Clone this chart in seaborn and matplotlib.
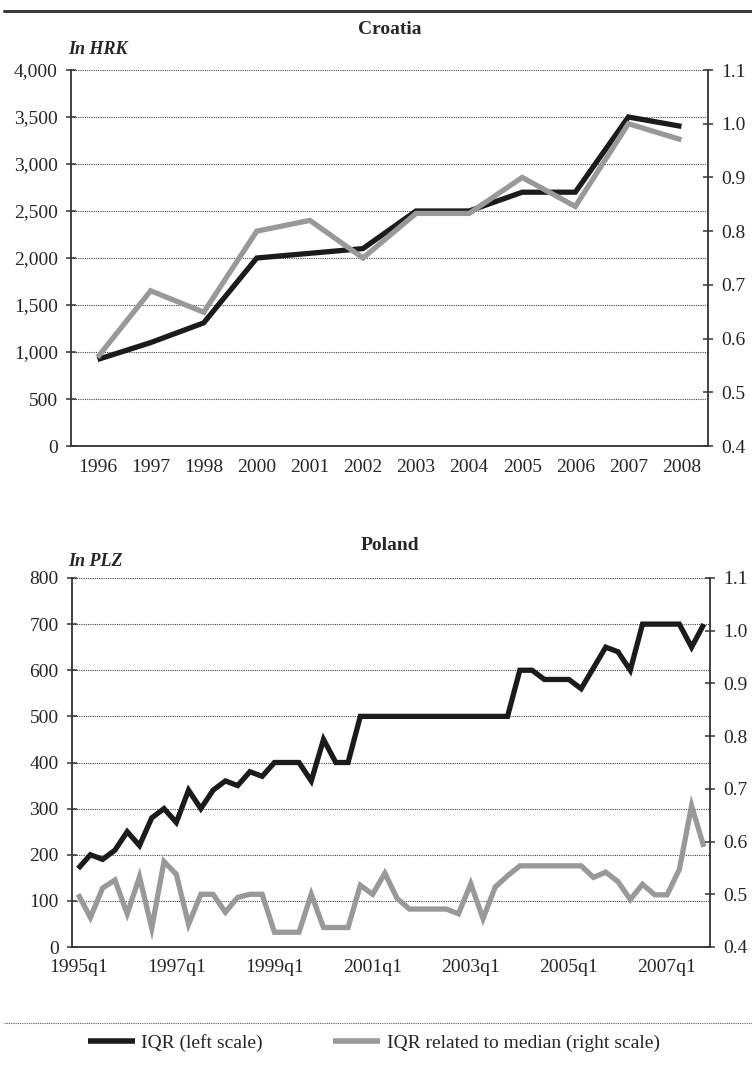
#IQR charts: Croatia (annual) and Poland (quarterly)
import numpy as np
import pandas as pd
import matplotlib
matplotlib.use("Agg")
import matplotlib.pyplot as plt
from matplotlib.lines import Line2D
from matplotlib.ticker import FuncFormatter
import seaborn as sns

# Croatia, annual (no 1999)
cro_years = ['1996', '1997', '1998', '2000', '2001', '2002', '2003', '2004', '2005', '2006', '2007', '2008']
cro_iqr = [920, 1100, 1310, 2000, 2050, 2100, 2500, 2500, 2700, 2700, 3500, 3400]
cro_rel = [0.565, 0.689, 0.649, 0.800, 0.820, 0.750, 0.833, 0.833, 0.900, 0.846, 1.000, 0.970]

# Poland, quarterly 1995q1-2007q4
pol_quarters = [f"{y}q{q}" for y in range(1995, 2008) for q in range(1, 5)]
pol_iqr = [170, 200, 190, 210, 250, 220, 280, 300, 270, 340, 300, 340,
           360, 350, 380, 370, 400, 400, 400, 360, 450, 400, 400,
           500, 500, 500, 500, 500, 500, 500, 500, 500, 500, 500, 500, 500,
           600, 600, 580, 580, 580, 560, 605, 650, 640, 600,
           700, 700, 700, 700, 650, 700]
pol_rel = [0.500, 0.456, 0.512, 0.527, 0.463, 0.533, 0.436, 0.562, 0.538, 0.443, 0.500, 0.500,
           0.466, 0.494, 0.500, 0.500, 0.428, 0.428, 0.428, 0.500, 0.437, 0.437, 0.437,
           0.517, 0.500, 0.540, 0.492, 0.472, 0.472, 0.472, 0.472, 0.463, 0.520, 0.454,
           0.514, 0.535, 0.554, 0.554, 0.554, 0.554, 0.554, 0.554, 0.532, 0.542, 0.524,
           0.490, 0.519, 0.499, 0.499, 0.547, 0.668, 0.590]
pol_labels = ['1995q1', '1997q1', '1999q1', '2001q1', '2003q1', '2005q1', '2007q1']

left_label = "IQR (left scale)"
right_label = "IQR related to median (right scale)"

sns.set_style("white")
plt.rcParams['font.family'] = ['Liberation Serif', 'DejaVu Serif']
plt.rcParams['font.size'] = 14

BLACK = "#1c1a1b"
GREY = "#999999"
AXC = "#333333"

W, H = 752, 1073
fig = plt.figure(figsize=(W / 100, H / 100), dpi=100)


def frac_y(py):
    return 1 - py / H


def style_axes(ax, ax2, ylim_l, ylim_r, lticks, rticks):
    ax.set_ylim(*ylim_l)
    ax2.set_ylim(*ylim_r)
    ax.set_yticks(lticks)
    ax2.set_yticks(rticks)
    ax2.yaxis.set_major_formatter(FuncFormatter(lambda v, p: f"{v:.1f}"))
    ax.grid(axis='y', linestyle=(0, (1, 1)), color="#444444", linewidth=0.8)
    ax.grid(axis='x', visible=False)
    for s in ['top', 'right']:
        ax.spines[s].set_visible(False)
    for s in ['top', 'left', 'bottom']:
        ax2.spines[s].set_visible(False)
    for s in ['left', 'bottom']:
        ax.spines[s].set_color(AXC)
        ax.spines[s].set_linewidth(1.3)
    ax2.spines['right'].set_color(AXC)
    ax2.spines['right'].set_linewidth(1.3)
    ax.tick_params(axis='y', direction='inout', length=7, width=1.1, color=AXC, pad=6, labelsize=14)
    ax2.tick_params(axis='y', direction='inout', length=7, width=1.1, color=AXC, pad=6, labelsize=14)
    ax.tick_params(axis='x', which='major', length=0, pad=9, labelsize=14)
    ax.tick_params(axis='x', which='minor', direction='inout', length=8, width=1.6, color=AXC)
    ax.set_xlabel("")
    ax.set_ylabel("")
    ax2.set_ylabel("")
    ax.patch.set_alpha(0)
    ax2.patch.set_alpha(0)


line_kw = dict(linewidth=3.8, solid_joinstyle='miter', solid_capstyle='butt')

# ---- Croatia ----
ax1 = fig.add_axes([71 / W, frac_y(446), (708 - 71) / W, (446 - 70) / H])
ax1b = ax1.twinx()
cro = pd.DataFrame({'x': np.arange(len(cro_years)), 'iqr': cro_iqr, 'rel': cro_rel})
sns.lineplot(data=cro, x='x', y='iqr', ax=ax1, color=BLACK, **line_kw)
sns.lineplot(data=cro, x='x', y='rel', ax=ax1b, color=GREY, **line_kw)
ax1.set_xlim(-0.5, len(cro_years) - 0.5)
ax1.set_xticks(np.arange(len(cro_years)), cro_years)
ax1.set_xticks(np.arange(len(cro_years) + 1) - 0.5, minor=True)
style_axes(ax1, ax1b, (0, 4000), (0.4, 1.1), np.arange(0, 4001, 500), np.arange(0.4, 1.101, 0.1))
ax1.yaxis.set_major_formatter(FuncFormatter(lambda v, p: f"{int(v):,}"))

# ---- Poland ----
ax2 = fig.add_axes([72 / W, frac_y(947), (710 - 72) / W, (947 - 578) / H])
ax2b = ax2.twinx()
pol = pd.DataFrame({'x': np.arange(len(pol_quarters)), 'iqr': pol_iqr, 'rel': pol_rel})
sns.lineplot(data=pol, x='x', y='iqr', ax=ax2, color=BLACK, **line_kw)
sns.lineplot(data=pol, x='x', y='rel', ax=ax2b, color=GREY, **line_kw)
ax2.set_xlim(-0.5, len(pol_quarters) - 0.5)
ax2.set_xticks([pol_quarters.index(l) for l in pol_labels], pol_labels)
ax2.set_xticks(np.arange(0, len(pol_quarters) + 1, 4) - 0.5, minor=True)
style_axes(ax2, ax2b, (0, 800), (0.4, 1.1), np.arange(0, 801, 100), np.arange(0.4, 1.101, 0.1))

# titles and units
fig.text(0.518, frac_y(30), "Croatia", ha='center', va='center', fontsize=14, fontweight='bold')
fig.text(68 / W, frac_y(49), "In HRK", ha='left', va='center', fontsize=13, fontweight='bold', style='italic')
fig.text(0.518, frac_y(545), "Poland", ha='center', va='center', fontsize=14, fontweight='bold')
fig.text(68 / W, frac_y(562), "In PLZ", ha='left', va='center', fontsize=13, fontweight='bold', style='italic')

# top rule and bottom dotted separator
fig.add_artist(Line2D([0.005, 1.0], [frac_y(11), frac_y(11)], color="#3a3a3a", linewidth=2.2))
fig.add_artist(Line2D([0.005, 1.0], [frac_y(1023), frac_y(1023)], color="#555555",
                      linewidth=0.8, linestyle=(0, (1, 1))))

handles = [Line2D([], [], color=BLACK, linewidth=4, solid_capstyle='butt'),
           Line2D([], [], color=GREY, linewidth=4, solid_capstyle='butt')]
fig.legend(handles, [left_label, right_label], loc='center', bbox_to_anchor=(0.497, frac_y(1043)),
           ncol=2, frameon=False, fontsize=14, handlelength=2.4, handletextpad=0.35,
           columnspacing=3.6)

plt.savefig("out.png", dpi=100)
